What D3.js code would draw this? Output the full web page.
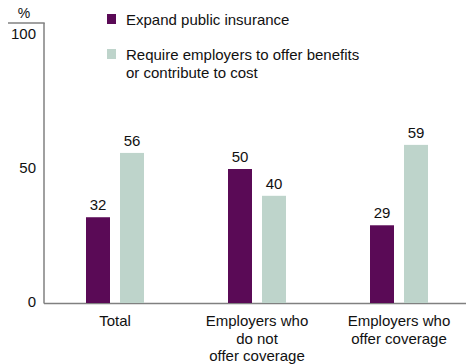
<!DOCTYPE html>
<html>
<head>
<meta charset="utf-8">
<script src="https://cdnjs.cloudflare.com/ajax/libs/d3/7.8.5/d3.min.js"></script>
<style>
  body { margin: 0; background: #fff; }
  text { font-family: "Liberation Sans", Arial, sans-serif; fill: #111; }
</style>
</head>
<body>
<div id="chart"></div>
<script>
var categories = [["Total"], ["Employers who", "do not", "offer coverage"], ["Employers who", "offer coverage"]];
var seriesNames = ["Expand public insurance", "Require employers to offer benefits|or contribute to cost"];
var publicIns = [32, 50, 29];
var employer = [56, 40, 59];
var yTicks = [0, 50, 100];

var colors = ["#5a0a56", "#bed4cb"];
var width = 466, height = 364;

var svg = d3.select("#chart").append("svg")
    .attr("width", width)
    .attr("height", height);

var x = d3.scaleBand().domain(d3.range(categories.length)).range([44, 470]);
var y = d3.scaleLinear().domain([0, 100]).range([303, 35]);

var data = [];
categories.forEach(function(c, i) {
    data.push({cat: i, s: 0, value: publicIns[i]});
    data.push({cat: i, s: 1, value: employer[i]});
});

var barW = 24, gap = 10;
function barX(d) {
    var c = x(d.cat) + x.bandwidth() / 2;
    return d.s === 0 ? c - gap / 2 - barW : c + gap / 2;
}

// axes lines
svg.append("line").attr("x1", 44).attr("x2", 44).attr("y1", 23).attr("y2", 303.5)
    .attr("stroke", "#808080").attr("stroke-width", 1.5);
svg.append("line").attr("x1", 8).attr("x2", 44.7).attr("y1", 23).attr("y2", 23)
    .attr("stroke", "#808080").attr("stroke-width", 1.5);
svg.append("line").attr("x1", 44).attr("x2", width).attr("y1", 303.5).attr("y2", 303.5)
    .attr("stroke", "#808080").attr("stroke-width", 1.5);

svg.append("text").attr("x", 24).attr("y", 18).attr("text-anchor", "middle")
    .style("font-size", "14px").text("%");

svg.selectAll(".ytick").data(yTicks).enter().append("text")
    .attr("class", "ytick")
    .attr("x", 36).attr("y", function(d) { return y(d) + 4; })
    .attr("text-anchor", "end")
    .style("font-size", "15px")
    .text(function(d) { return d; });

svg.selectAll(".bar").data(data).enter().append("rect")
    .attr("class", "bar")
    .attr("x", barX)
    .attr("width", barW)
    .attr("y", function(d) { return y(d.value); })
    .attr("height", function(d) { return y(0) - y(d.value); })
    .attr("fill", function(d) { return colors[d.s]; });

svg.selectAll(".val").data(data).enter().append("text")
    .attr("class", "val")
    .attr("x", function(d) { return barX(d) + barW / 2; })
    .attr("y", function(d) { return y(d.value) - 7; })
    .attr("text-anchor", "middle")
    .style("font-size", "15px")
    .text(function(d) { return d.value; });

// category labels
categories.forEach(function(lines, i) {
    var t = svg.append("text")
        .attr("x", x(i) + x.bandwidth() / 2)
        .attr("y", 326)
        .attr("text-anchor", "middle")
        .style("font-size", "15px");
    lines.forEach(function(l, j) {
        t.append("tspan").attr("x", x(i) + x.bandwidth() / 2)
            .attr("dy", j === 0 ? 0 : 17.5).text(l);
    });
});

// legend
var legY = [14, 49];
seriesNames.forEach(function(name, i) {
    svg.append("rect").attr("x", 107).attr("y", legY[i]).attr("width", 9).attr("height", 10)
        .attr("fill", colors[i]);
    var t = svg.append("text").attr("x", 126).attr("y", legY[i] + 10.5)
        .style("font-size", "15px");
    name.split("|").forEach(function(l, j) {
        t.append("tspan").attr("x", 126).attr("dy", j === 0 ? 0 : 18).text(l);
    });
});
</script>
</body>
</html>
